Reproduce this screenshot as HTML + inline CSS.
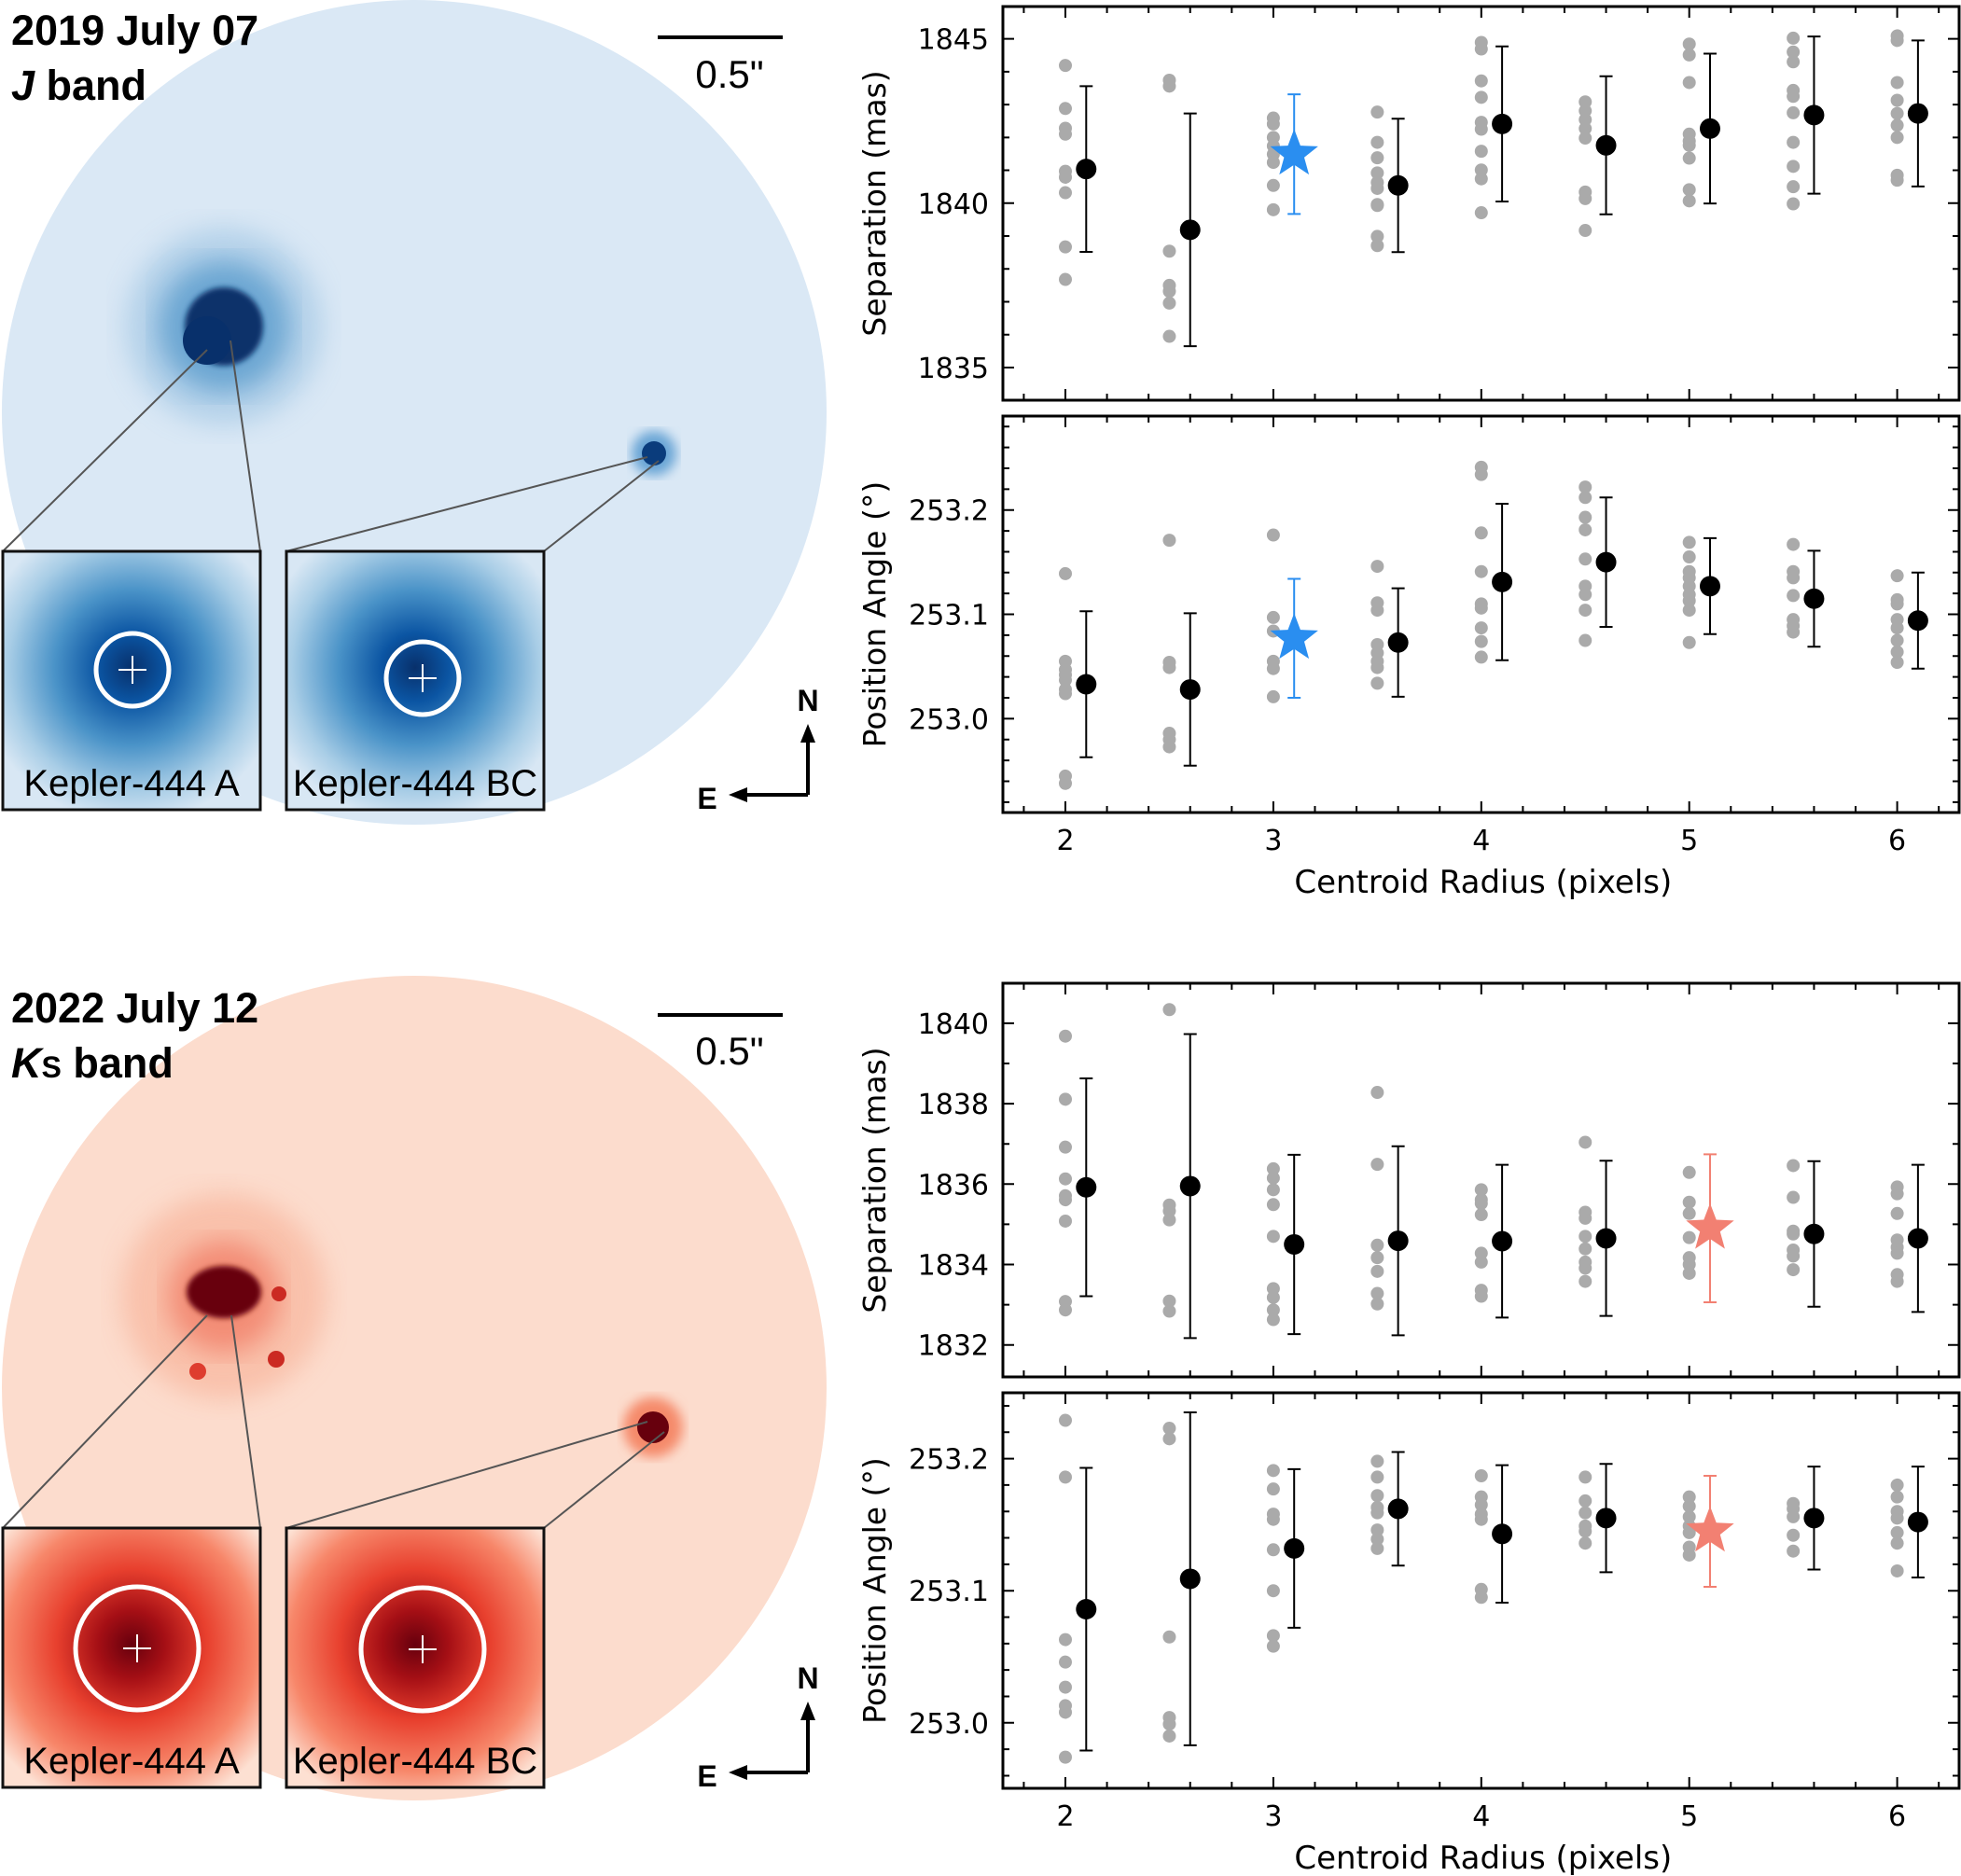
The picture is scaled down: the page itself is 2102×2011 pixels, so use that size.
<!DOCTYPE html>
<html><head><meta charset="utf-8"><style>
html,body{margin:0;padding:0;background:#fff;}
svg{display:block;font-family:"Liberation Sans",sans-serif;}
#charts{font-family:"DejaVu Sans",sans-serif;}
</style></head><body>
<svg id="fig" width="2102" height="2011" viewBox="0 0 2102 2011" xmlns="http://www.w3.org/2000/svg">
<defs>
<filter id="blur6"><feGaussianBlur stdDeviation="6"/></filter>
<filter id="blur14"><feGaussianBlur stdDeviation="14"/></filter>
<filter id="blur3"><feGaussianBlur stdDeviation="3"/></filter>
<radialGradient id="inB" cx="50%" cy="45%" r="60%"><stop offset="0" stop-color="#08306b"/><stop offset="0.22" stop-color="#0b55a3"/><stop offset="0.5" stop-color="#4a93c8"/><stop offset="0.8" stop-color="#a8cde6"/><stop offset="1" stop-color="#d8e7f4"/></radialGradient>
<radialGradient id="inR" cx="50%" cy="45%" r="65%"><stop offset="0" stop-color="#67000d"/><stop offset="0.2" stop-color="#a50f15"/><stop offset="0.45" stop-color="#e8402e"/><stop offset="0.75" stop-color="#f7876a"/><stop offset="1" stop-color="#fde0d2"/></radialGradient>
<clipPath id="cTop"><circle cx="444" cy="442" r="442"/></clipPath>
<clipPath id="cBot"><circle cx="444" cy="1488" r="442"/></clipPath>
</defs>

<g>
<circle cx="444" cy="442" r="442" fill="#dae8f5"/>
<g clip-path="url(#cTop)">
<circle cx="240" cy="350" r="105" fill="#a9cbe6" filter="url(#blur14)" opacity="0.8"/>
<circle cx="240" cy="350" r="70" fill="#4d94c9" filter="url(#blur14)" opacity="0.7"/>
<circle cx="240" cy="350" r="42" fill="#08306b" filter="url(#blur3)"/>
<circle cx="222" cy="365" r="26" fill="#08306b"/>
<circle cx="701" cy="486" r="24" fill="#6aa6d6" filter="url(#blur6)"/>
<circle cx="701" cy="486" r="13" fill="#0a3c7c"/>
</g>
</g>
<g font-weight="bold" font-size="45">
<text x="12" y="48">2019 July 07</text>
<text x="12" y="107"><tspan font-style="italic">J</tspan> band</text>
</g>
<line x1="705" y1="40" x2="839" y2="40" stroke="#000" stroke-width="4"/>
<text x="782" y="94" font-size="42" text-anchor="middle">0.5"</text>
<g stroke="#555" stroke-width="2">
<line x1="222" y1="375" x2="3" y2="591"/><line x1="247" y1="365" x2="279" y2="591"/>
<line x1="694" y1="490" x2="307" y2="591"/><line x1="706" y1="494" x2="583" y2="591"/>
</g>
<g>
<rect x="3" y="591" width="276" height="277" fill="url(#inB)" stroke="#111" stroke-width="3"/>
<circle cx="142" cy="718" r="39" fill="none" stroke="#fff" stroke-width="5"/>
<path d="M127 718h30M142 703v30" stroke="#fff" stroke-width="2"/>
<text x="141" y="853" font-size="40" text-anchor="middle">Kepler-444 A</text>
</g>
<g>
<rect x="307" y="591" width="276" height="277" fill="url(#inB)" stroke="#111" stroke-width="3"/>
<circle cx="453" cy="727" r="39" fill="none" stroke="#fff" stroke-width="5"/>
<path d="M438 727h30M453 712v30" stroke="#fff" stroke-width="2"/>
<text x="445" y="853" font-size="40" text-anchor="middle">Kepler-444 BC</text>
</g>
<g>
<path d="M866 852V790M866 852H795" stroke="#000" stroke-width="4" fill="none"/>
<path d="M866 776l-8 20h16z M781 852l20 -8v16z" fill="#000"/>
<text x="866" y="762" font-size="32" font-weight="bold" text-anchor="middle">N</text>
<text x="758" y="867" font-size="32" font-weight="bold" text-anchor="middle">E</text>
</g>

<g>
<circle cx="444" cy="1488" r="442" fill="#fcdccd"/>
<g clip-path="url(#cBot)">
<circle cx="240" cy="1390" r="110" fill="#f8b59c" filter="url(#blur14)" opacity="0.7"/>
<circle cx="240" cy="1390" r="60" fill="#ef6b52" filter="url(#blur14)" opacity="0.6"/>
<ellipse cx="240" cy="1385" rx="40" ry="28" fill="#67000d" filter="url(#blur3)"/>
<circle cx="296" cy="1457" r="9" fill="#cb2a22"/><circle cx="212" cy="1470" r="9" fill="#de3d2f"/><circle cx="299" cy="1387" r="8" fill="#cb2a22"/>
<circle cx="700" cy="1530" r="32" fill="#f58a6b" filter="url(#blur6)"/>
<circle cx="700" cy="1530" r="17" fill="#67000d"/>
</g>
</g>
<g font-weight="bold" font-size="45">
<text x="12" y="1096">2022 July 12</text>
<text x="12" y="1155"><tspan font-style="italic">K</tspan><tspan font-size="32">S</tspan> band</text>
</g>
<line x1="705" y1="1088" x2="839" y2="1088" stroke="#000" stroke-width="4"/>
<text x="782" y="1141" font-size="42" text-anchor="middle">0.5"</text>
<g stroke="#555" stroke-width="2">
<line x1="222" y1="1410" x2="3" y2="1638"/><line x1="248" y1="1410" x2="279" y2="1638"/>
<line x1="694" y1="1524" x2="307" y2="1638"/><line x1="712" y1="1535" x2="583" y2="1638"/>
</g>
<g>
<rect x="3" y="1638" width="276" height="278" fill="url(#inR)" stroke="#111" stroke-width="3"/>
<circle cx="147" cy="1767" r="66" fill="none" stroke="#fff" stroke-width="5"/>
<path d="M132 1767h30M147 1752v30" stroke="#fff" stroke-width="2"/>
<text x="141" y="1901" font-size="40" text-anchor="middle">Kepler-444 A</text>
</g>
<g>
<rect x="307" y="1638" width="276" height="278" fill="url(#inR)" stroke="#111" stroke-width="3"/>
<circle cx="453" cy="1768" r="66" fill="none" stroke="#fff" stroke-width="5"/>
<path d="M438 1768h30M453 1753v30" stroke="#fff" stroke-width="2"/>
<text x="445" y="1901" font-size="40" text-anchor="middle">Kepler-444 BC</text>
</g>
<g>
<path d="M866 1900V1838M866 1900H795" stroke="#000" stroke-width="4" fill="none"/>
<path d="M866 1824l-8 20h16z M781 1900l20 -8v16z" fill="#000"/>
<text x="866" y="1810" font-size="32" font-weight="bold" text-anchor="middle">N</text>
<text x="758" y="1915" font-size="32" font-weight="bold" text-anchor="middle">E</text>
</g>
<g id="charts"></g>
</svg>
<script>
const groupX = [2, 2.5, 3, 3.5, 4, 4.5, 5, 5.5, 6];
const sep19Points = [
 [1844.19,1842.88,1842.28,1842.1,1840.97,1840.79,1840.32,1838.67,1837.68],
 [1843.74,1843.56,1838.54,1837.5,1837.32,1836.96,1835.95],
 [1842.59,1842.41,1842.0,1841.74,1841.49,1841.24,1840.54,1839.8],
 [1842.77,1841.85,1841.38,1840.92,1840.63,1840.45,1839.96,1839.93,1838.99,1838.71],
 [1844.89,1844.69,1843.72,1843.22,1842.46,1842.25,1841.58,1841.01,1840.74,1839.71],
 [1843.08,1842.81,1842.54,1842.27,1841.98,1840.34,1840.14,1839.17],
 [1844.84,1844.51,1843.67,1842.1,1841.89,1841.76,1841.37,1840.41,1840.07],
 [1845.02,1844.6,1844.3,1843.43,1843.25,1842.75,1841.85,1841.12,1840.5,1839.98],
 [1845.09,1844.95,1843.67,1843.13,1842.73,1842.37,1842.0,1840.85,1840.7]];
const sep19Mean = [1841.04,1839.19,1841.49,1840.54,1842.41,1841.76,1842.27,1842.68,1842.73];
const sep19Err = [2.52,3.54,1.82,2.03,2.36,2.1,2.28,2.39,2.22];
const pa19Points = [
 [253.139,253.055,253.047,253.042,253.037,253.028,253.024,252.945,252.938],
 [253.171,253.054,253.049,252.986,252.98,252.973],
 [253.176,253.097,253.084,253.055,253.048,253.021],
 [253.146,253.111,253.104,253.071,253.063,253.055,253.049,253.034],
 [253.241,253.234,253.178,253.141,253.11,253.106,253.087,253.074,253.059],
 [253.222,253.212,253.193,253.181,253.153,253.127,253.119,253.104,253.075],
 [253.169,253.155,253.141,253.135,253.127,253.119,253.113,253.104,253.073],
 [253.167,253.141,253.135,253.118,253.095,253.089,253.083],
 [253.137,253.114,253.11,253.095,253.087,253.075,253.064,253.054]];
const pa19Mean = [253.033,253.028,253.077,253.073,253.131,253.150,253.127,253.115,253.094];
const pa19Err = [0.070,0.073,0.057,0.052,0.075,0.062,0.046,0.046,0.046];
const sep22Points = [
 [1839.68,1838.11,1836.92,1836.13,1835.71,1835.61,1835.08,1833.08,1832.87],
 [1840.34,1835.48,1835.33,1835.11,1833.09,1832.84],
 [1836.38,1836.15,1835.86,1835.49,1834.70,1833.40,1833.18,1832.87,1832.63],
 [1838.28,1836.49,1834.48,1834.17,1833.83,1833.28,1833.02],
 [1835.86,1835.61,1835.52,1835.24,1834.28,1834.06,1833.36,1833.21],
 [1837.04,1835.30,1835.15,1834.70,1834.39,1834.06,1833.91,1833.58],
 [1836.29,1835.55,1835.27,1834.67,1834.17,1834.0,1833.78],
 [1836.46,1835.67,1834.83,1834.76,1834.36,1834.21,1833.87],
 [1835.93,1835.76,1835.27,1834.61,1834.43,1834.28,1833.75,1833.58]];
const sep22Mean = [1835.92,1835.95,1834.5,1834.59,1834.58,1834.65,1834.90,1834.76,1834.65];
const sep22Err = [2.71,3.78,2.23,2.35,1.9,1.93,1.84,1.81,1.83];
const pa22Points = [
 [253.229,253.186,253.063,253.046,253.027,253.013,253.008,252.974],
 [253.223,253.215,253.065,253.004,252.999,252.990],
 [253.191,253.177,253.158,253.154,253.131,253.1,253.066,253.058],
 [253.198,253.186,253.172,253.163,253.159,253.146,253.139,253.132],
 [253.187,253.171,253.165,253.158,253.154,253.101,253.095],
 [253.186,253.168,253.159,253.149,253.145,253.136],
 [253.171,253.164,253.156,253.149,253.144,253.133,253.127],
 [253.166,253.162,253.156,253.142,253.130],
 [253.180,253.171,253.16,253.155,253.144,253.136,253.115]];
const pa22Mean = [253.086,253.109,253.132,253.162,253.143,253.155,253.145,253.155,253.152];
const pa22Err = [0.107,0.126,0.06,0.043,0.052,0.041,0.042,0.039,0.042];
const xTicks = [2,3,4,5,6];
const sep19Ticks = [1835,1840,1845];
const pa19Ticks = [253.0,253.1,253.2];
const sep22Ticks = [1832,1834,1836,1838,1840];
const pa22Ticks = [253.0,253.1,253.2];

const NS = 'http://www.w3.org/2000/svg';
const root = document.getElementById('charts');
function mk(tag, attrs, parent) {
  const e = document.createElementNS(NS, tag);
  for (const k in attrs) e.setAttribute(k, attrs[k]);
  (parent || root).appendChild(e);
  return e;
}
const X0 = 1075, X1 = 2100;
function xs(v) { return 1142 + (v - 2) * (2033.6 - 1142) / 4; }
function starPath(cx, cy, R) {
  const r = R * 0.42; let d = '';
  for (let i = 0; i < 10; i++) {
    const a = -Math.PI / 2 + i * Math.PI / 5, rr = i % 2 ? r : R;
    d += (i ? 'L' : 'M') + (cx + rr * Math.cos(a)).toFixed(1) + ' ' + (cy + rr * Math.sin(a)).toFixed(1);
  }
  return d + 'Z';
}
function panel(o) {
  const g = mk('g', {});
  
  
  const ys = v => o.yA + (v - o.vA) * (o.yB - o.yA) / (o.vB - o.vA);
  const k0 = (o.yB - o.yA) / (o.vB - o.vA);
  const vmin = o.vA + (o.y1 - o.yA) / k0;
  const vmax = o.vA + (o.y0 - o.yA) / k0;
  let tp = '';
  const start = Math.ceil(vmin / o.minor - 1e-6);
  for (let k = start; k * o.minor <= vmax + 1e-9; k++) {
    const v = k * o.minor, y = ys(v);
    const major = o.ticks.some(t => Math.abs(t - v) < o.minor / 10);
    const L = major ? 12 : 7;
    tp += `M${X0} ${y}h${L}M${X1} ${y}h${-L}`;
  }
  for (let k = 0; ; k++) {
    const v = 1.8 + k * 0.2; const x = xs(v);
    if (x > X1) break;
    if (x < X0) continue;
    const major = Math.abs(v - Math.round(v)) < 0.01;
    const L = major ? 12 : 7;
    tp += `M${x} ${o.y0}v${L}M${x} ${o.y1}v${-L}`;
  }
  const tk = mk('path', { d: tp, stroke: '#000', 'stroke-width': 2, fill: 'none' }, g);
  
  
  o.ticks.forEach(t => {
    const tx = mk('text', { x: 1060, y: ys(t) + 11, 'font-size': 30, 'text-anchor': 'end', fill: '#000' }, g);
    tx.textContent = o.fmt(t);
    
    
  });
  const yl = mk('text', { x: 0, y: 0, 'font-size': 33, 'text-anchor': 'middle', transform: `translate(949 ${(o.y0 + o.y1) / 2}) rotate(-90)` }, g);
  yl.textContent = o.ylabel;
  
  
  o.pts.forEach((arr, i) => arr.forEach(v => {
    const c = mk('circle', { cx: xs(groupX[i]), cy: ys(v), r: 7, fill: '#aaaaaa' }, g);
    
    
  }));
  o.mean.forEach((m, i) => {
    const x = xs(groupX[i] + 0.1), star = i === o.starIdx;
    const col = star ? o.starCol : '#000';
    const e = mk('path', { d: `M${x} ${ys(m + o.err[i])}V${ys(m - o.err[i])}M${x - 7} ${ys(m + o.err[i])}h14M${x - 7} ${ys(m - o.err[i])}h14`, stroke: col, 'stroke-width': 2, fill: 'none' }, g);
    
    
    if (star) {
      const s = mk('path', { d: starPath(x, ys(m), 27), fill: col }, g);
      
      
    } else {
      const c = mk('circle', { cx: x, cy: ys(m), r: 11, fill: '#000' }, g);
      
      
    }
  });
  const fr = mk('rect', { x: X0, y: o.y0, width: X1 - X0, height: o.y1 - o.y0, fill: 'none', stroke: '#000', 'stroke-width': 3 }, g);
  
  
  if (o.xlab) {
    xTicks.forEach(t => {
      const tx = mk('text', { x: xs(t), y: o.y1 + 40, 'font-size': 30, 'text-anchor': 'middle' }, g);
      tx.textContent = t;
      
      
    });
    const xl = mk('text', { x: (xs(2) + xs(6)) / 2 + 2, y: o.y1 + 86, 'font-size': 34, 'text-anchor': 'middle' }, g);
    xl.textContent = 'Centroid Radius (pixels)';
    
    
  }
}
panel({ name: 'separation-2019', y0: 7, y1: 429, vA: 1845, yA: 41.6, vB: 1835, yB: 394, minor: 1, ticks: sep19Ticks, fmt: t => t, ylabel: 'Separation (mas)', pts: sep19Points, mean: sep19Mean, err: sep19Err, starIdx: 2, starCol: '#2a8ef0' });
panel({ name: 'position-angle-2019', y0: 446, y1: 871, vA: 253.2, yA: 546.7, vB: 253.0, yB: 770.4, minor: 0.02, ticks: pa19Ticks, fmt: t => t.toFixed(1), ylabel: 'Position Angle (°)', pts: pa19Points, mean: pa19Mean, err: pa19Err, starIdx: 2, starCol: '#2a8ef0', xlab: true });
panel({ name: 'separation-2022', y0: 1054, y1: 1476, vA: 1840, yA: 1096.9, vB: 1832, yB: 1441.7, minor: 1, ticks: sep22Ticks, fmt: t => t, ylabel: 'Separation (mas)', pts: sep22Points, mean: sep22Mean, err: sep22Err, starIdx: 6, starCol: '#f28072' });
panel({ name: 'position-angle-2022', y0: 1493, y1: 1917, vA: 253.2, yA: 1563.6, vB: 253.0, yB: 1846.8, minor: 0.02, ticks: pa22Ticks, fmt: t => t.toFixed(1), ylabel: 'Position Angle (°)', pts: pa22Points, mean: pa22Mean, err: pa22Err, starIdx: 6, starCol: '#f28072', xlab: true });
</script>
</body></html>
